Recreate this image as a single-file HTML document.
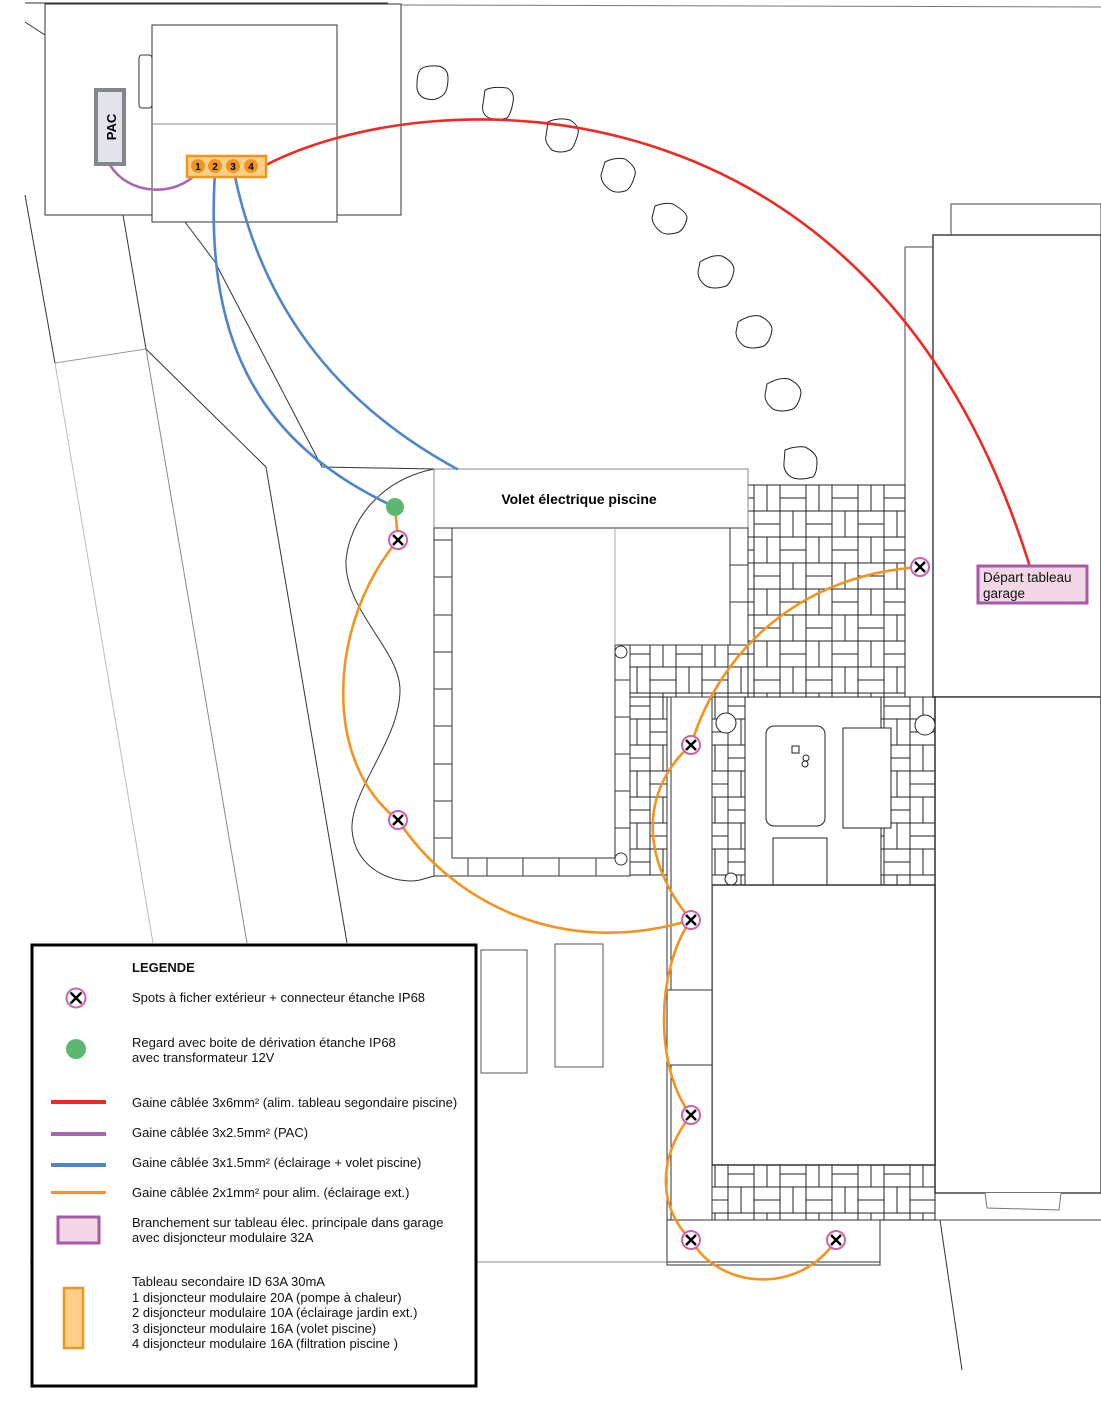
<!DOCTYPE html>
<html><head><meta charset="utf-8"><style>
html,body{margin:0;padding:0;background:#fff}
svg{display:block}
text{font-family:"Liberation Sans",Arial,sans-serif}
</style></head><body>
<svg width="1101" height="1408" viewBox="0 0 1101 1408" xmlns="http://www.w3.org/2000/svg">
<defs>
<pattern id="hb" x="0" y="485" width="52" height="52" patternUnits="userSpaceOnUse">
<g fill="none" stroke="#222" stroke-width="1">
<rect x="0" y="0" width="26" height="13"/><rect x="0" y="13" width="26" height="13"/>
<rect x="26" y="0" width="13" height="26"/><rect x="39" y="0" width="13" height="26"/>
<rect x="0" y="26" width="13" height="26"/><rect x="13" y="26" width="13" height="26"/>
<rect x="26" y="26" width="26" height="13"/><rect x="26" y="39" width="26" height="13"/>
</g></pattern>
</defs>
<g fill="none" stroke="#333" stroke-width="1">
<line x1="25" y1="3" x2="388" y2="3"/>
<line x1="401" y1="5" x2="1101" y2="7" stroke="#777"/>
<rect x="45" y="4" width="356" height="211"/>
<rect x="152" y="25" width="185" height="197" fill="#fff"/>
<line x1="152" y1="124" x2="337" y2="124" stroke="#888"/>
<rect x="139" y="55" width="13" height="53" rx="3"/>
<line x1="25" y1="22" x2="45" y2="35"/>
<line x1="25" y1="195" x2="55" y2="363"/>
<line x1="55" y1="363" x2="146" y2="349" stroke="#999"/>
<line x1="123" y1="215" x2="146" y2="349"/>
<polyline points="146,349 208,410 266,467 347,943"/>
<line x1="55" y1="363" x2="153" y2="943" stroke="#bbb"/>
<line x1="146" y1="349" x2="247" y2="943" stroke="#888"/>
<polyline points="185,222 215,262 322,467 434,469"/>
<path d="M434,469 C380,480 350,520 346,560 C344,610 400,650 400,690 C400,740 350,790 352,830 C355,870 395,885 420,880 L434,876"/>
<line x1="940" y1="1220" x2="962" y2="1370"/>
</g>
<g fill="#fff" stroke="#222" stroke-width="1">
<path d="M420,70 q4,-5 18,-4 q10,2 10,12 q0,14 -6,18 q-8,6 -18,2 q-8,-4 -7,-14 q0,-10 3,-14z"/>
<path d="M485,90 q8,-4 22,-2 q8,4 6,14 q-2,12 -6,16 q-10,3 -18,0 q-8,-4 -6,-14z"/>
<path d="M548,122 q10,-5 22,-2 q10,6 8,14 q-4,14 -8,16 q-10,4 -18,0 q-8,-8 -6,-14z"/>
<path d="M605,162 q10,-5 20,-3 q12,8 10,16 q-4,14 -10,16 q-10,3 -16,-2 q-8,-6 -8,-14z"/>
<path d="M655,206 q10,-4 18,-2 q14,8 14,14 q-2,10 -8,14 q-12,4 -18,0 q-8,-6 -9,-14z"/>
<path d="M700,262 q12,-8 22,-6 q12,6 12,14 q-2,12 -8,16 q-12,4 -20,0 q-8,-6 -8,-14z"/>
<path d="M738,322 q12,-8 22,-6 q12,6 12,14 q-2,12 -8,16 q-12,4 -20,0 q-8,-6 -8,-14z"/>
<path d="M767,384 q12,-7 22,-5 q12,6 12,14 q-2,12 -8,16 q-12,4 -20,0 q-8,-6 -8,-14z"/>
<path d="M785,450 q10,-4 20,-3 q12,6 12,14 q0,12 -4,16 q-14,4 -22,0 q-8,-6 -7,-14z"/>
</g>
<g fill="#fff" stroke="#444" stroke-width="1">
<rect x="951" y="204" width="150" height="31"/>
<line x1="905" y1="247" x2="905" y2="697"/>
<line x1="905" y1="247" x2="933" y2="247"/>
<rect x="933" y="235" width="168" height="462" stroke-width="1.5"/>
<rect x="935" y="697" width="166" height="496" stroke-width="1.5"/>
<line x1="935" y1="1220" x2="1101" y2="1220"/>
<path d="M985,1193 l2,15 l72,2 l2,-17" stroke="#777"/>
</g>
<rect x="748" y="485" width="157" height="212" fill="url(#hb)" stroke="#222"/>
<rect x="630" y="645" width="118" height="52" fill="url(#hb)" stroke="#222"/>
<rect x="712" y="697" width="223" height="188" fill="url(#hb)" stroke="#222"/>
<rect x="630" y="697" width="37" height="178" fill="url(#hb)" stroke="#222"/>
<rect x="712" y="1165" width="223" height="55" fill="url(#hb)" stroke="#222"/>
<rect x="745" y="697" width="136" height="188" fill="#fff" stroke="#222"/>
<rect x="766" y="726" width="59" height="100" rx="8" fill="#fff" stroke="#222"/>
<rect x="792" y="746" width="7" height="7" fill="none" stroke="#222"/>
<circle cx="806" cy="758" r="3" fill="none" stroke="#222"/><circle cx="805" cy="764" r="3" fill="none" stroke="#222"/>
<rect x="843" y="728" width="48" height="100" fill="#fff" stroke="#222"/>
<rect x="773" y="838" width="54" height="47" fill="#fff" stroke="#222"/>
<circle cx="726" cy="723" r="10" fill="#fff" stroke="#222"/>
<circle cx="925" cy="725" r="10" fill="#fff" stroke="#222"/>
<circle cx="731" cy="879" r="6" fill="#fff" stroke="#222"/>
<g fill="#fff" stroke="#333" stroke-width="1">
<rect x="712" y="885" width="223" height="280" stroke-width="1.5"/>
<rect x="667" y="697" width="45" height="568"/>
<line x1="671" y1="697" x2="671" y2="1265"/>
<rect x="667" y="990" width="45" height="75"/>
<rect x="667" y="1220" width="213" height="45"/>
<line x1="667" y1="1262" x2="880" y2="1262"/>
<line x1="30" y1="1262" x2="667" y2="1262" stroke="#888"/>
</g>
<!-- pool -->
<g fill="#fff" stroke="#333" stroke-width="1">
<rect x="434" y="469" width="314" height="59" stroke="#888"/>
<polygon points="434,528 748,528 748,645 630,645 630,876 434,876"/>
<polygon points="452,528 730,528 730,645 615,645 615,858 452,858"/>
<line x1="615" y1="528" x2="615" y2="645" stroke="#aaa"/>
<circle cx="621" cy="652" r="6"/><circle cx="621" cy="859" r="6"/>
</g>
<g stroke="#333" stroke-width="1">
<line x1="434" y1="540" x2="452" y2="540"/><line x1="434" y1="577" x2="452" y2="577"/><line x1="434" y1="615" x2="452" y2="615"/><line x1="434" y1="652" x2="452" y2="652"/><line x1="434" y1="689" x2="452" y2="689"/><line x1="434" y1="726" x2="452" y2="726"/><line x1="434" y1="764" x2="452" y2="764"/><line x1="434" y1="801" x2="452" y2="801"/><line x1="434" y1="838" x2="452" y2="838"/>
<line x1="468" y1="858" x2="468" y2="876"/><line x1="487" y1="858" x2="487" y2="876"/><line x1="523" y1="858" x2="523" y2="876"/><line x1="559" y1="858" x2="559" y2="876"/><line x1="596" y1="858" x2="596" y2="876"/>
<line x1="615" y1="680" x2="630" y2="680"/><line x1="615" y1="717" x2="630" y2="717"/><line x1="615" y1="754" x2="630" y2="754"/><line x1="615" y1="791" x2="630" y2="791"/><line x1="615" y1="828" x2="630" y2="828"/>
<line x1="730" y1="565" x2="748" y2="565"/><line x1="730" y1="602" x2="748" y2="602"/>
</g>
<text x="579" y="504" font-size="14" font-weight="bold" text-anchor="middle" fill="#000">Volet électrique piscine</text>
<rect x="481" y="950" width="46" height="123" fill="#fff" stroke="#555"/>
<rect x="555" y="944" width="48" height="123" fill="#fff" stroke="#555"/>
<g fill="none" stroke-width="2.6" stroke-linecap="round">
<path d="M266,165 C430,80 875,65 1030,567" stroke="#ee2a24"/>
<path d="M110,165 C128,195 175,198 198,172" stroke="#a865b0"/>
<path d="M215,172 C205,330 250,440 395,507" stroke="#4e86c8"/>
<path d="M234,172 C260,300 330,400 457,469" stroke="#4e86c8"/>
<g stroke="#f29420">
<path d="M395,507 L398,540"/>
<path d="M398,540 C330,620 320,760 398,820"/>
<path d="M398,820 C450,900 560,960 691,920"/>
<path d="M691,920 C640,860 640,790 691,745"/>
<path d="M691,745 C720,650 800,575 920,567"/>
<path d="M691,920 C655,970 655,1070 691,1115"/>
<path d="M691,1115 C655,1160 660,1210 691,1240"/>
<path d="M691,1240 C720,1290 800,1295 836,1240"/>
</g>
</g>
<rect x="96" y="90" width="28" height="74" fill="#e3e3ea" stroke="#85858f" stroke-width="4"/>
<text transform="translate(116,127) rotate(-90)" font-size="13" font-weight="bold" text-anchor="middle" fill="#000">PAC</text>
<rect x="187" y="156" width="79" height="21" fill="#fdd08a" stroke="#f0961e" stroke-width="2.5"/>
<g fill="#f0961e"><circle cx="198" cy="166" r="7"/><circle cx="215" cy="166" r="7"/><circle cx="233" cy="166" r="7"/><circle cx="251" cy="166" r="7"/></g>
<g font-size="10" font-weight="bold" text-anchor="middle" fill="#000"><text x="198" y="170">1</text><text x="215" y="170">2</text><text x="233" y="170">3</text><text x="251" y="170">4</text></g>
<circle cx="395" cy="507" r="9" fill="#5cb870"/>
<g>
<g transform="translate(398,540)"><circle r="9" fill="#fff" stroke="#d060a8" stroke-width="2"/><path d="M-5,-5L5,5M5,-5L-5,5" stroke="#000" stroke-width="2.4"/></g>
<g transform="translate(398,820)"><circle r="9" fill="#fff" stroke="#d060a8" stroke-width="2"/><path d="M-5,-5L5,5M5,-5L-5,5" stroke="#000" stroke-width="2.4"/></g>
<g transform="translate(920,567)"><circle r="9" fill="#fff" stroke="#d060a8" stroke-width="2"/><path d="M-5,-5L5,5M5,-5L-5,5" stroke="#000" stroke-width="2.4"/></g>
<g transform="translate(691,745)"><circle r="9" fill="#fff" stroke="#d060a8" stroke-width="2"/><path d="M-5,-5L5,5M5,-5L-5,5" stroke="#000" stroke-width="2.4"/></g>
<g transform="translate(691,920)"><circle r="9" fill="#fff" stroke="#d060a8" stroke-width="2"/><path d="M-5,-5L5,5M5,-5L-5,5" stroke="#000" stroke-width="2.4"/></g>
<g transform="translate(691,1115)"><circle r="9" fill="#fff" stroke="#d060a8" stroke-width="2"/><path d="M-5,-5L5,5M5,-5L-5,5" stroke="#000" stroke-width="2.4"/></g>
<g transform="translate(691,1240)"><circle r="9" fill="#fff" stroke="#d060a8" stroke-width="2"/><path d="M-5,-5L5,5M5,-5L-5,5" stroke="#000" stroke-width="2.4"/></g>
<g transform="translate(836,1240)"><circle r="9" fill="#fff" stroke="#d060a8" stroke-width="2"/><path d="M-5,-5L5,5M5,-5L-5,5" stroke="#000" stroke-width="2.4"/></g>
</g>
<rect x="978" y="566" width="109" height="37" fill="#f3d6e6" stroke="#a55aa8" stroke-width="3"/>
<text x="983" y="582" font-size="13.5" fill="#111">Départ tableau</text>
<text x="983" y="598" font-size="13.5" fill="#111">garage</text>
<rect x="32" y="945" width="444" height="441" fill="#fff" stroke="#000" stroke-width="3"/>
<g font-size="13" fill="#111">
<text x="132" y="972" font-weight="bold">LEGENDE</text>
<text x="132" y="1002">Spots à ficher extérieur + connecteur étanche IP68</text>
<text x="132" y="1047">Regard avec boite de dérivation étanche IP68</text>
<text x="132" y="1062">avec transformateur 12V</text>
<text x="132" y="1107">Gaine câblée 3x6mm² (alim. tableau segondaire piscine)</text>
<text x="132" y="1137">Gaine câblée 3x2.5mm² (PAC)</text>
<text x="132" y="1167">Gaine câblée 3x1.5mm² (éclairage + volet piscine)</text>
<text x="132" y="1197">Gaine câblée 2x1mm² pour alim. (éclairage ext.)</text>
<text x="132" y="1227">Branchement sur tableau élec. principale dans garage</text>
<text x="132" y="1242">avec disjoncteur modulaire 32A</text>
<text x="132" y="1286">Tableau secondaire ID 63A 30mA</text>
<text x="132" y="1302">1 disjoncteur modulaire 20A (pompe à chaleur)</text>
<text x="132" y="1317">2 disjoncteur modulaire 10A (éclairage jardin ext.)</text>
<text x="132" y="1333">3 disjoncteur modulaire 16A (volet piscine)</text>
<text x="132" y="1348">4 disjoncteur modulaire 16A (filtration piscine )</text>
</g>
<g transform="translate(76,998)"><circle r="9.5" fill="#fff" stroke="#d060a8" stroke-width="2"/><path d="M-5.5,-5.5L5.5,5.5M5.5,-5.5L-5.5,5.5" stroke="#000" stroke-width="2.4"/></g>
<circle cx="76" cy="1049" r="10" fill="#5cb870"/>
<rect x="51" y="1100" width="55" height="4" fill="#ee2a24"/>
<rect x="51" y="1132" width="55" height="4" fill="#a865b0"/>
<rect x="51" y="1163" width="55" height="4" fill="#4e86c8"/>
<rect x="51" y="1191" width="55" height="3" fill="#f29420"/>
<rect x="58" y="1217" width="41" height="26" fill="#f3d6e6" stroke="#a55aa8" stroke-width="3"/>
<rect x="64" y="1288" width="19" height="60" fill="#fdd08a" stroke="#f0961e" stroke-width="2.5"/>
</svg>
</body></html>
